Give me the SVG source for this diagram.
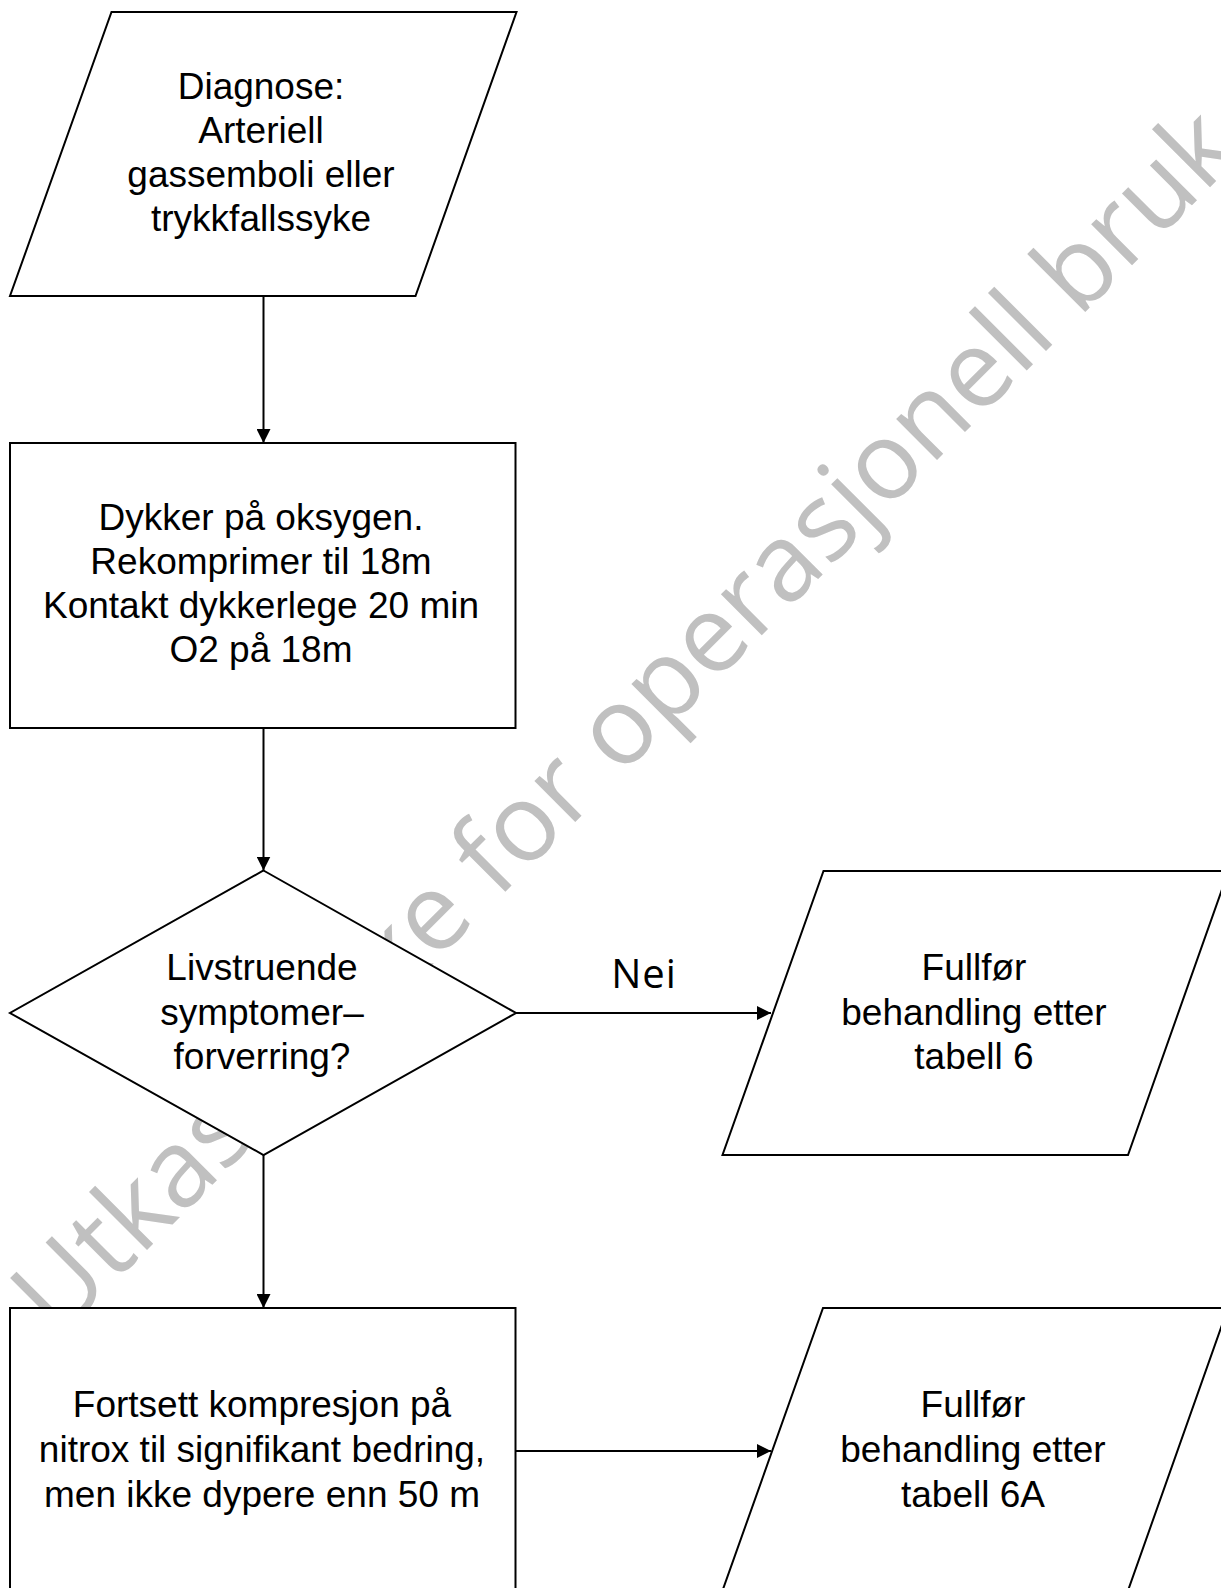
<svg xmlns="http://www.w3.org/2000/svg" width="1221" height="1588" viewBox="0 0 1221 1588">
  <style>
    .shape { fill: #ffffff; stroke: #000000; stroke-width: 2; }
    .lbl { font-family: "Liberation Sans", Arial, sans-serif; font-size: 37px; fill: #000000; text-anchor: middle; }
    .edge { fill: none; stroke: #000000; stroke-width: 2; marker-end: url(#arrow); }
    .wm { font-family: "Open Sans", sans-serif; font-size: 108px; fill: #c0c0c0; text-anchor: end; }
    .elbl { font-family: "Open Sans", sans-serif; font-size: 40px; fill: #000000; text-anchor: middle; letter-spacing: 1px; }
  </style>
  <defs>
    <marker id="arrow" markerUnits="userSpaceOnUse" markerWidth="14" markerHeight="14" refX="14" refY="7" orient="auto">
      <path d="M0,0 L14,7 L0,14 Z" fill="#000000"/>
    </marker>
  </defs>
  <rect x="0" y="0" width="1221" height="1588" fill="#ffffff"/>

  <text class="wm" x="1243.6" y="153.6" transform="rotate(-45 1243.6 153.6)">Utkast <tspan dx="40">ikke for operasjonell bruk</tspan></text>

  <g id="connectors">
    <line class="edge" x1="263.5" y1="296" x2="263.5" y2="443"/>
    <line class="edge" x1="263.5" y1="728" x2="263.5" y2="870.5"/>
    <line class="edge" x1="516" y1="1013" x2="771" y2="1013"/>
    <line class="edge" x1="263.5" y1="1155" x2="263.5" y2="1308"/>
    <line class="edge" x1="515.5" y1="1451" x2="771" y2="1451"/>
    <text class="elbl" x="644" y="988">Nei</text>
  </g>

  <g id="n1">
    <polygon class="shape" points="111.5,12 516.5,12 415.5,296 10,296"/>
    <text class="lbl" x="261" y="99">Diagnose:</text>
    <text class="lbl" x="261" y="143">Arteriell</text>
    <text class="lbl" x="261" y="187">gassemboli eller</text>
    <text class="lbl" x="261" y="231">trykkfallssyke</text>
  </g>

  <g id="n2">
    <rect class="shape" x="10" y="443" width="505.5" height="285"/>
    <text class="lbl" x="261" y="530">Dykker på oksygen.</text>
    <text class="lbl" x="261" y="574">Rekomprimer til 18m</text>
    <text class="lbl" x="261" y="618">Kontakt dykkerlege 20 min</text>
    <text class="lbl" x="261" y="662">O2 på 18m</text>
  </g>

  <g id="n3">
    <polygon class="shape" points="263.5,870.5 516,1013 263.5,1155 10,1013"/>
    <text class="lbl" x="262" y="980">Livstruende</text>
    <text class="lbl" x="262" y="1024.5">symptomer–</text>
    <text class="lbl" x="262" y="1069">forverring?</text>
  </g>

  <g id="n4">
    <polygon class="shape" points="823.5,871 1228.5,871 1128,1155 722.5,1155"/>
    <text class="lbl" x="974" y="980">Fullfør</text>
    <text class="lbl" x="974" y="1024.5">behandling etter</text>
    <text class="lbl" x="974" y="1069">tabell 6</text>
  </g>

  <g id="n5">
    <rect class="shape" x="10" y="1308" width="505.5" height="290"/>
    <text class="lbl" x="262" y="1417">Fortsett kompresjon på</text>
    <text class="lbl" x="262" y="1462">nitrox til signifikant bedring,</text>
    <text class="lbl" x="262" y="1507">men ikke dypere enn 50 m</text>
  </g>

  <g id="n6">
    <polygon class="shape" points="823,1308 1228,1308 1127.5,1592 722,1592"/>
    <text class="lbl" x="973" y="1417">Fullfør</text>
    <text class="lbl" x="973" y="1462">behandling etter</text>
    <text class="lbl" x="973" y="1507">tabell 6A</text>
  </g>
</svg>
